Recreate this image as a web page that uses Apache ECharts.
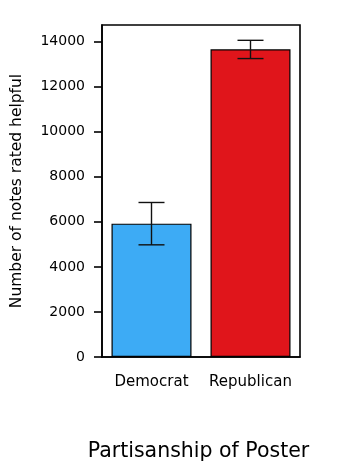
<!DOCTYPE html>
<html>
<head>
<meta charset="utf-8">
<script src="https://cdn.jsdelivr.net/npm/echarts@6/dist/echarts.min.js"></script>
<style>html,body{margin:0;padding:0;background:#fff}#c{width:337px;height:461px}</style>
</head>
<body>
<div id="c"></div>
<script>
var categories = ['Democrat', 'Republican'];
var values = [5920, 13660];
var errLow = [4980, 13250];
var errHigh = [6860, 14060];
var yTicks = [0, 2000, 4000, 6000, 8000, 10000, 12000, 14000];
var colors = ['#3dabf5', '#e0151b'];

var chart = echarts.init(document.getElementById('c'));
var font = 'DejaVu Sans';
chart.setOption({
  animation: false,
  grid: {left: 102, right: 37, top: 25, bottom: 104, outerBoundsMode: 'none', show: true, borderColor: '#000', borderWidth: 1.6, backgroundColor: 'transparent'},
  xAxis: {
    type: 'category', data: categories, boundaryGap: true,
    name: 'Partisanship of Poster', nameLocation: 'middle', nameGap: 84,
    nameTextStyle: {fontFamily: font, fontSize: 20.5, color: '#000', padding: [0, 5, 0, 0]},
    axisLine: {lineStyle: {color: '#000', width: 1.6}},
    axisTick: {alignWithLabel: true, length: 8, lineStyle: {color: '#000', width: 1.6}},
    axisLabel: {interval: 0, hideOverlap: false, fontFamily: font, fontSize: 15, color: '#000', margin: 18}
  },
  yAxis: {
    type: 'value', min: 0, max: 14740, interval: 2000,
    name: 'Number of notes rated helpful', nameLocation: 'middle', nameGap: 77,
    nameTextStyle: {fontFamily: font, fontSize: 15.5, color: '#000'},
    axisLine: {show: true, lineStyle: {color: '#000', width: 1.6}},
    axisTick: {show: true, length: 8, customValues: yTicks, lineStyle: {color: '#000', width: 1.6}},
    axisLabel: {fontFamily: font, fontSize: 14, color: '#000', margin: 17, customValues: yTicks,
      formatter: function (v) { return String(v); }},
    splitLine: {show: false}
  },
  series: [{
    type: 'bar', barWidth: 80,
    data: values.map(function (v, i) { return {value: v, itemStyle: {color: colors[i]}}; }),
    itemStyle: {borderColor: '#000', borderWidth: 1.2}
  }, {
    type: 'custom',
    data: categories.map(function (c, i) { return [i, errLow[i], errHigh[i]]; }),
    renderItem: function (params, api) {
      var x = api.value(0);
      var lo = api.coord([x, api.value(1)]);
      var hi = api.coord([x, api.value(2)]);
      var h = 13;
      var st = {stroke: '#111', lineWidth: 1.4};
      return {type: 'group', children: [
        {type: 'line', shape: {x1: lo[0], y1: lo[1], x2: hi[0], y2: hi[1]}, style: st},
        {type: 'line', shape: {x1: lo[0] - h, y1: lo[1], x2: lo[0] + h, y2: lo[1]}, style: st},
        {type: 'line', shape: {x1: hi[0] - h, y1: hi[1], x2: hi[0] + h, y2: hi[1]}, style: st}
      ]};
    },
    z: 10
  }]
});
</script>
</body>
</html>
